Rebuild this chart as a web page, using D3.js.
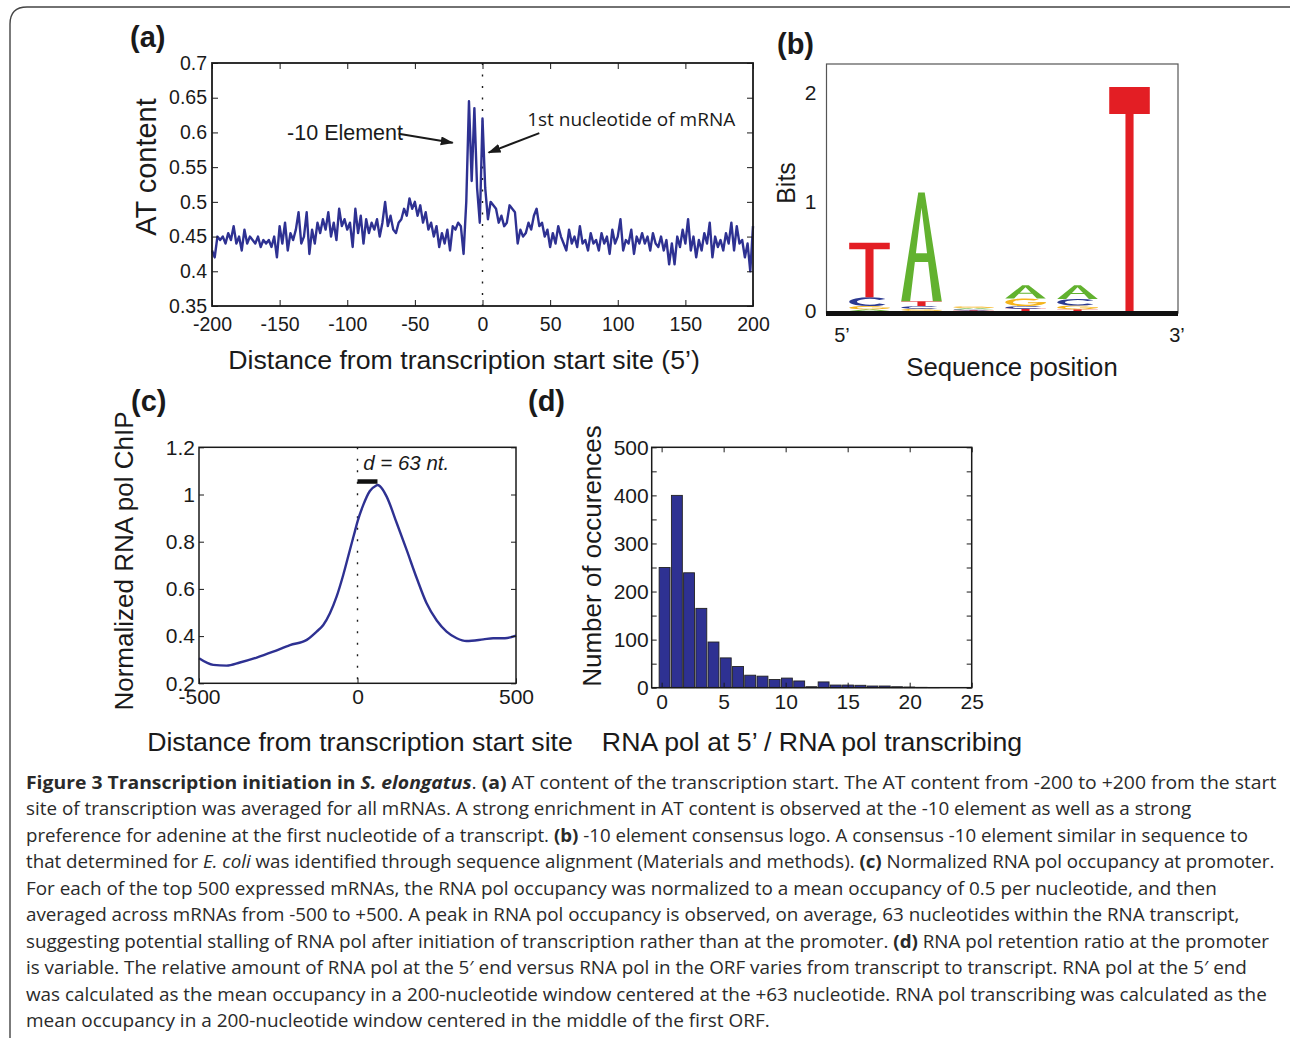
<!DOCTYPE html>
<html>
<head>
<meta charset="utf-8">
<script src="https://cdn.jsdelivr.net/npm/d3@7"></script>
<style>
  body { margin: 0; background: #fff; }
  svg { display: block; }
  text { white-space: pre; }
</style>
</head>
<body>
<svg id="fig" width="1290" height="1038"></svg>
<script>
// ---- panel (a): AT content around the TSS (every 2nd nucleotide) ----
const atPos = d3.range(-200, 201, 2);
const atContent = [
  0.43, 0.42, 0.45, 0.445, 0.45, 0.44, 0.455, 0.445, 0.465, 0.44,
  0.45, 0.43, 0.46, 0.44, 0.45, 0.445, 0.44, 0.45, 0.435, 0.445,
  0.44, 0.445, 0.435, 0.45, 0.42, 0.465, 0.44, 0.47, 0.43, 0.455,
  0.445, 0.46, 0.485, 0.44, 0.45, 0.485, 0.425, 0.46, 0.44, 0.47,
  0.455, 0.475, 0.46, 0.485, 0.45, 0.47, 0.445, 0.49, 0.465, 0.475,
  0.46, 0.47, 0.435, 0.49, 0.455, 0.48, 0.44, 0.475, 0.455, 0.47,
  0.46, 0.475, 0.45, 0.47, 0.5, 0.465, 0.48, 0.46, 0.455, 0.47,
  0.475, 0.49, 0.48, 0.505, 0.49, 0.5, 0.48, 0.495, 0.47, 0.485,
  0.46, 0.47, 0.45, 0.465, 0.435, 0.455, 0.44, 0.46, 0.43, 0.465,
  0.46, 0.47, 0.465, 0.425, 0.5, 0.645, 0.53, 0.635, 0.52, 0.47,
  0.62, 0.52, 0.475, 0.5, 0.495, 0.49, 0.47, 0.48, 0.465, 0.47,
  0.495, 0.49, 0.485, 0.44, 0.46, 0.45, 0.455, 0.47, 0.46, 0.48,
  0.49, 0.465, 0.47, 0.45, 0.46, 0.435, 0.455, 0.44, 0.465, 0.45,
  0.44, 0.43, 0.46, 0.44, 0.45, 0.435, 0.465, 0.44, 0.445, 0.43,
  0.455, 0.44, 0.445, 0.43, 0.455, 0.44, 0.45, 0.425, 0.46, 0.44,
  0.45, 0.475, 0.43, 0.445, 0.44, 0.46, 0.425, 0.45, 0.44, 0.455,
  0.44, 0.45, 0.43, 0.455, 0.44, 0.435, 0.45, 0.43, 0.445, 0.41,
  0.44, 0.41, 0.45, 0.435, 0.46, 0.44, 0.475, 0.43, 0.45, 0.42,
  0.445, 0.43, 0.455, 0.44, 0.47, 0.42, 0.45, 0.435, 0.445, 0.43,
  0.455, 0.44, 0.47, 0.43, 0.465, 0.44, 0.445, 0.42, 0.44, 0.40,
  0.465
];
const atTicksX = [-200, -150, -100, -50, 0, 50, 100, 150, 200];
const atTicksY = [0.35, 0.4, 0.45, 0.5, 0.55, 0.6, 0.65, 0.7];

// ---- panel (b): -10 element logo, bits per letter at each position ----
const logoPositions = [1, 2, 3, 4, 5, 6];
const logoA = [0.015, 0.995, 0.012, 0.12, 0.125, 0];
const logoC = [0.08, 0.025, 0.01, 0.025, 0.06, 0];
const logoG = [0.03, 0.02, 0.016, 0.07, 0.035, 0];
const logoT = [0.5, 0.045, 0.006, 0.02, 0.015, 2.05];
const logoTicksY = [0, 1, 2];

// ---- panel (c): normalized RNA pol ChIP profile ----
const chipX = [-500, -455, -413, -371, -318, -266, -213, -160, -129, -108, -87, -66, -45, -24, -8, 0,
  18, 39, 58, 63, 71, 92, 124, 155, 187, 218, 250, 281, 313, 344, 397, 428, 465, 500];
const chipY = [0.306, 0.278, 0.275, 0.288, 0.309, 0.334, 0.362, 0.384, 0.419, 0.447, 0.497, 0.567, 0.659, 0.765, 0.845, 0.885,
  0.955, 1.015, 1.037, 1.04, 1.035, 0.991, 0.878, 0.765, 0.645, 0.539, 0.466, 0.419, 0.391, 0.379, 0.386, 0.391, 0.391, 0.402];
const peakShift = [0, 63];
const chipTicksX = [-500, 0, 500];
const chipTicksY = [0.2, 0.4, 0.6, 0.8, 1, 1.2];

// ---- panel (d): histogram of retention ratio ----
const ratioBins = [0.24, 1.23, 2.21, 3.2, 4.18, 5.17, 6.16, 7.14, 8.13, 9.11, 10.1, 11.09, 12.07,
  13.06, 14.04, 15.03, 16.02, 17.0, 17.99, 18.98, 19.97, 20.96, 21.94, 22.93, 23.91];
const ratioCounts = [250, 400, 239, 165, 95, 62, 44, 26, 24, 17, 20, 14, 2,
  12, 5.5, 5.5, 5, 3.5, 3.5, 2, 1.4, 0.7, 0.5, 0, 0];
const histTicksX = [0, 5, 10, 15, 20, 25];
const histTicksY = [0, 50, 100, 150, 200, 250, 300, 350, 400, 450, 500];

// ---- caption ----
const captionLines = [
  [["Figure 3 Transcription initiation in ", "b"], ["S. elongatus", "bi"], [". ", ""], ["(a)", "b"], [" AT content of the transcription start. The AT content from -200 to +200 from the start", ""]],
  [["site of transcription was averaged for all mRNAs. A strong enrichment in AT content is observed at the -10 element as well as a strong", ""]],
  [["preference for adenine at the first nucleotide of a transcript. ", ""], ["(b)", "b"], [" -10 element consensus logo. A consensus -10 element similar in sequence to", ""]],
  [["that determined for ", ""], ["E. coli", "i"], [" was identified through sequence alignment (Materials and methods). ", ""], ["(c)", "b"], [" Normalized RNA pol occupancy at promoter.", ""]],
  [["For each of the top 500 expressed mRNAs, the RNA pol occupancy was normalized to a mean occupancy of 0.5 per nucleotide, and then", ""]],
  [["averaged across mRNAs from -500 to +500. A peak in RNA pol occupancy is observed, on average, 63 nucleotides within the RNA transcript,", ""]],
  [["suggesting potential stalling of RNA pol after initiation of transcription rather than at the promoter. ", ""], ["(d)", "b"], [" RNA pol retention ratio at the promoter", ""]],
  [["is variable. The relative amount of RNA pol at the 5\u2032 end versus RNA pol in the ORF varies from transcript to transcript. RNA pol at the 5\u2032 end", ""]],
  [["was calculated as the mean occupancy in a 200-nucleotide window centered at the +63 nucleotide. RNA pol transcribing was calculated as the", ""]],
  [["mean occupancy in a 200-nucleotide window centered in the middle of the first ORF.", ""]]
];
// where each printed caption line ends (page x), used to fit the fallback font
const captionLineEnds = [1277, 1192, 1249, 1275, 1218, 1240, 1270, 1248, 1267, 770];

const FONT = '"Liberation Sans", Arial, Helvetica, sans-serif';
const BLUE = "#2e3192";
const INK = "#1a1a1a";
const letterColor = { A: "#62b22f", C: "#2b3990", G: "#f5b41b", T: "#e31e24" };

const svg = d3.select("#fig");

// figure frame (rounded corner top-left, runs off the page)
svg.append("path")
  .attr("d", "M10,1045 V24 Q10,7 27,7 H1295")
  .attr("fill", "none").attr("stroke", "#444").attr("stroke-width", 1.4);

function styleAxis(sel, size) {
  sel.select(".domain").remove();
  sel.selectAll(".tick line").attr("stroke", INK).attr("stroke-width", 1);
  sel.selectAll(".tick text").attr("font-size", size).attr("font-family", FONT).attr("fill", INK);
}

// inward ticks on all 4 sides, labels on bottom/left
function boxAxes(g, x, y, o) {
  const [x0, x1] = x.range(), [y0, y1] = y.range();
  const t = o.tick;
  g.append("g").attr("transform", `translate(0,${y0})`)
    .call(d3.axisBottom(x).tickValues(o.xt).tickSize(-t).tickSizeOuter(0).tickPadding(o.xpad)
      .tickFormat(o.xf || (d => String(d))))
    .call(s => styleAxis(s, o.fs));
  if (o.top !== false) {
    g.append("g").attr("transform", `translate(0,${y1})`)
      .call(d3.axisTop(x).tickValues(o.xt).tickSize(-t).tickSizeOuter(0).tickFormat(""))
      .call(s => styleAxis(s, o.fs));
  }
  g.append("g").attr("transform", `translate(${x0},0)`)
    .call(d3.axisLeft(y).tickValues(o.yt).tickSize(-t).tickSizeOuter(0).tickPadding(o.ypad)
      .tickFormat(o.yf || (d => String(d))))
    .call(s => styleAxis(s, o.fs));
  g.append("g").attr("transform", `translate(${x1},0)`)
    .call(d3.axisRight(y).tickValues(o.yt).tickSize(-t).tickSizeOuter(0).tickFormat(""))
    .call(s => styleAxis(s, o.fs));
  g.append("rect")
    .attr("x", x0).attr("y", y1).attr("width", x1 - x0).attr("height", y0 - y1)
    .attr("fill", "none").attr("stroke", INK).attr("stroke-width", o.sw || 1.5);
}

function label(g, txt, x, y, size, opts = {}) {
  const t = g.append("text").attr("x", x).attr("y", y)
    .attr("font-family", FONT).attr("font-size", size).attr("fill", INK)
    .attr("text-anchor", opts.anchor || "middle").text(txt);
  if (opts.rotate) t.attr("transform", `rotate(-90,${x},${y})`);
  if (opts.weight) t.attr("font-weight", opts.weight);
  if (opts.style) t.attr("font-style", opts.style);
  return t;
}

svg.append("defs").append("marker")
  .attr("id", "arrow").attr("markerUnits", "userSpaceOnUse")
  .attr("markerWidth", 14).attr("markerHeight", 10)
  .attr("refX", 12).attr("refY", 4.5).attr("orient", "auto")
  .append("path").attr("d", "M0,0 L13,4.5 L0,9 Z").attr("fill", INK);

// ================= (a) =================
const ga = svg.append("g");
const ax = d3.scaleLinear().domain([-200, 200]).range([212, 753]);
const ay = d3.scaleLinear().domain([0.35, 0.7]).range([306, 63]);

ga.append("line")
  .attr("x1", ax(0)).attr("x2", ax(0)).attr("y1", ay(0.7)).attr("y2", ay(0.35))
  .attr("stroke", INK).attr("stroke-width", 1.4).attr("stroke-dasharray", "2,9.5");

ga.append("path")
  .datum(atPos.map((p, i) => [p, atContent[i]]))
  .attr("fill", "none").attr("stroke", BLUE).attr("stroke-width", 2.4).attr("stroke-linejoin", "round")
  .attr("d", d3.line().x(d => ax(d[0])).y(d => ay(d[1])));

boxAxes(ga, ax, ay, { xt: atTicksX, yt: atTicksY, tick: 6, xpad: 11, ypad: 5, fs: 19.5, sw: 1.8 });

label(ga, "(a)", 130, 47, 29, { anchor: "start", weight: "bold" });
label(ga, "AT content", 156, 167, 29, { rotate: true });
label(ga, "Distance from transcription start site (5\u2019)", 464, 369, 26.7);

label(ga, "-10 Element", 403, 140, 21.5, { anchor: "end" });
ga.append("line")
  .attr("x1", ax(-62)).attr("y1", ay(0.598)).attr("x2", ax(-22)).attr("y2", ay(0.585))
  .attr("stroke", INK).attr("stroke-width", 2).attr("marker-end", "url(#arrow)");
label(ga, "1st nucleotide of mRNA", ax(33), ay(0.612) + 2, 19, { anchor: "start" })
  .attr("font-family", '"Open Sans", sans-serif');
ga.append("line")
  .attr("x1", ax(42)).attr("y1", ay(0.599)).attr("x2", ax(4.5)).attr("y2", ay(0.571))
  .attr("stroke", INK).attr("stroke-width", 2).attr("marker-end", "url(#arrow)");

// ================= (b) =================
const gb = svg.append("g");
const bx = d3.scaleBand().domain(logoPositions).range([844, 1155]).paddingInner(0.22).paddingOuter(0.1);
const by = d3.scaleLinear().domain([0, 2]).range([311, 92.5]);

gb.append("rect").attr("x", 826.5).attr("y", 64).attr("width", 351.5).attr("height", 249)
  .attr("fill", "none").attr("stroke", "#555").attr("stroke-width", 1.2);

const glyphPath = {
  T: "M0,0 H100 V12 H60 V100 H40 V12 H0 Z",
  A: "M0,100 L42,0 H58 L100,100 H78 L66.3,64 H33.7 L22,100 Z M36.3,56 H63.7 L50,14 Z"
};
const deg = Math.PI / 180;
const arcC = d3.arc()({ innerRadius: 31, outerRadius: 50, startAngle: 128 * deg, endAngle: 412 * deg });
const arcG = d3.arc()({ innerRadius: 31, outerRadius: 50, startAngle: 90 * deg, endAngle: 402 * deg });

function drawGlyph(g, letter, x, yTop, w, h) {
  const cell = g.append("g").attr("transform", `translate(${x},${yTop}) scale(${w / 100},${h / 100})`);
  const col = letterColor[letter];
  if (letter === "T" || letter === "A") {
    cell.append("path").attr("d", glyphPath[letter]).attr("fill", col).attr("fill-rule", "evenodd");
  } else {
    cell.append("path").attr("d", letter === "C" ? arcC : arcG)
      .attr("transform", "translate(50,50)").attr("fill", col);
    if (letter === "G") {
      cell.append("rect").attr("x", 56).attr("y", 50).attr("width", 44).attr("height", 13).attr("fill", col);
    }
  }
}

logoPositions.forEach((p, i) => {
  const stack = [["A", logoA[i]], ["C", logoC[i]], ["G", logoG[i]], ["T", logoT[i]]]
    .filter(d => d[1] > 0)
    .sort((a, b) => a[1] - b[1]);
  let base = 0;
  stack.forEach(([letter, bits]) => {
    const yTop = by(base + bits), yBot = by(base);
    drawGlyph(gb, letter, bx(p), yTop, bx.bandwidth(), yBot - yTop);
    base += bits;
  });
});

gb.append("line").attr("x1", 826).attr("x2", 1178).attr("y1", by(0) + 2.5).attr("y2", by(0) + 2.5)
  .attr("stroke", "#111").attr("stroke-width", 5);

gb.append("g").attr("transform", "translate(826.5,0)")
  .call(d3.axisLeft(by).tickValues(logoTicksY).tickSize(0).tickPadding(10).tickFormat(d => String(d)))
  .call(s => styleAxis(s, 21));

label(gb, "(b)", 777, 54, 29, { anchor: "start", weight: "bold" });
label(gb, "Bits", 795, 183, 25, { rotate: true });
label(gb, "5\u2019", 842, 342, 20);
label(gb, "3\u2019", 1177, 342, 20);
label(gb, "Sequence position", 1012, 376, 25.7);

// ================= (c) =================
const gc = svg.append("g");
const cx = d3.scaleLinear().domain([-500, 500]).range([199, 516]);
const cy = d3.scaleLinear().domain([0.2, 1.2]).range([683.3, 447.3]);

gc.append("line")
  .attr("x1", cx(0)).attr("x2", cx(0)).attr("y1", cy(1.2)).attr("y2", cy(0.2))
  .attr("stroke", INK).attr("stroke-width", 1.4).attr("stroke-dasharray", "2,9.5");

gc.append("path")
  .datum(chipX.map((p, i) => [p, chipY[i]]))
  .attr("fill", "none").attr("stroke", BLUE).attr("stroke-width", 2.4)
  .attr("d", d3.line().curve(d3.curveMonotoneX).x(d => cx(d[0])).y(d => cy(d[1])));

gc.append("line")
  .attr("x1", cx(peakShift[0])).attr("x2", cx(peakShift[1])).attr("y1", cy(1.055)).attr("y2", cy(1.055))
  .attr("stroke", "#111").attr("stroke-width", 4.5);

boxAxes(gc, cx, cy, { xt: chipTicksX, yt: chipTicksY, tick: 5, xpad: 6, ypad: 4, fs: 21, top: false });

label(gc, "d = 63 nt.", cx(18), 470, 20.5, { anchor: "start", style: "italic" });
label(gc, "(c)", 131, 411, 29, { anchor: "start", weight: "bold" });
label(gc, "Normalized RNA pol ChIP", 133, 561, 26, { rotate: true });
label(gc, "Distance from transcription start site", 360, 751, 26.7);

// ================= (d) =================
const gd = svg.append("g");
const dx = d3.scaleLinear().domain([-0.8, 25]).range([651.7, 971.7]);
const dy = d3.scaleLinear().domain([0, 500]).range([687.7, 447.3]);
const binW = 0.88;

gd.selectAll("rect.bar")
  .data(ratioBins.map((b, i) => ({ b, n: ratioCounts[i] })).filter(d => d.n > 0))
  .join("rect").attr("class", "bar")
  .attr("x", d => dx(d.b - binW / 2))
  .attr("width", d => dx(d.b + binW / 2) - dx(d.b - binW / 2))
  .attr("y", d => dy(d.n))
  .attr("height", d => dy(0) - dy(d.n))
  .attr("fill", BLUE).attr("stroke", "#222").attr("stroke-width", 0.9);

boxAxes(gd, dx, dy, {
  xt: histTicksX, yt: histTicksY, tick: 5, xpad: 6, ypad: 3, fs: 21,
  yf: d => (d % 100 === 0 ? String(d) : "")
});

label(gd, "(d)", 528, 411, 29, { anchor: "start", weight: "bold" });
label(gd, "Number of occurences", 601, 556, 26, { rotate: true });
label(gd, "RNA pol at 5\u2019 / RNA pol transcribing", 812, 751, 26.7);

// ================= caption =================
const gcap = svg.append("g");
const capFont = '"Open Sans", "Noto Sans", sans-serif';
captionLines.forEach((segs, i) => {
  const t = gcap.append("text")
    .attr("x", 26).attr("y", 789 + i * 26.45)
    .attr("font-family", capFont).attr("font-size", 18.5).attr("fill", "#2a2a2a");
  segs.forEach(([s, st]) => {
    t.append("tspan").text(s)
      .attr("font-weight", st.includes("b") ? "bold" : null)
      .attr("font-style", st.includes("i") ? "italic" : null);
  });
  // Open Sans runs wider than the printed face: condense each line to the printed width
  const w = t.node().getComputedTextLength();
  const k = (captionLineEnds[i] - 26) / w;
  t.attr("transform", `translate(26,0) scale(${k},1) translate(-26,0)`);
});
</script>
</body>
</html>
